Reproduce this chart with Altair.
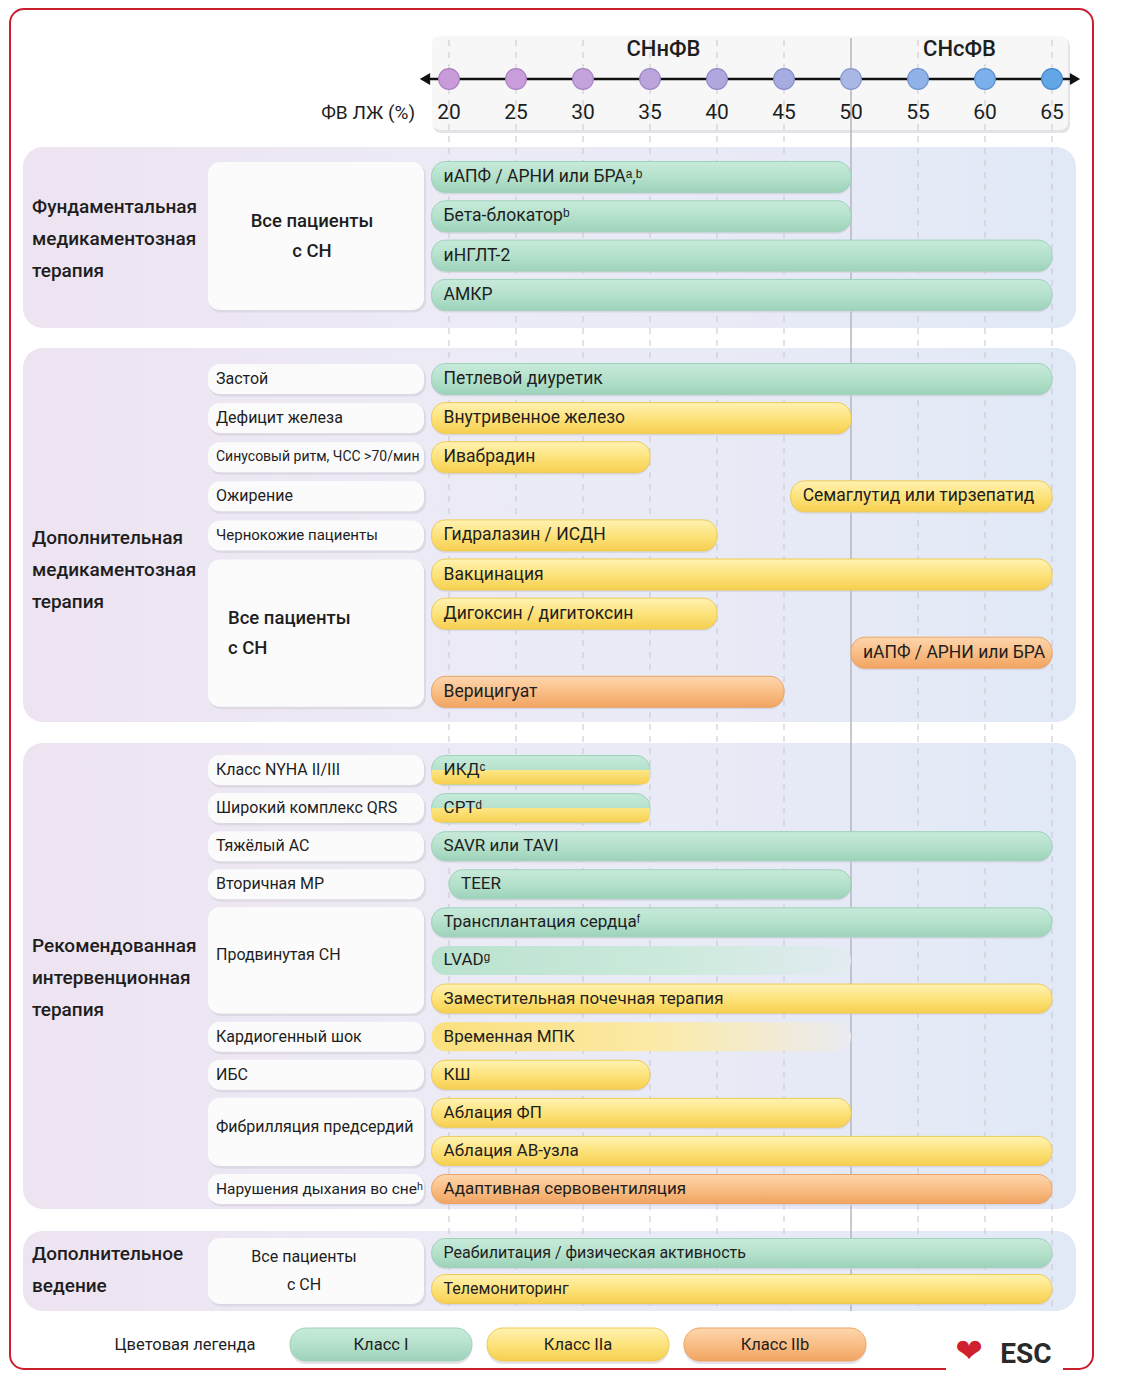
import altair as alt
import pandas as pd

FONT = "Roboto, Liberation Sans, sans-serif"

# ---------------- data ----------------
ef_ticks = [20, 25, 30, 35, 40, 45, 50, 55, 60, 65]
phenotypes = ["СНнФВ", "СНсФВ"]
phenotype_ef = [36.0, 58.1]

section_titles = [
    "Фундаментальная\nмедикаментозная\nтерапия",
    "Дополнительная\nмедикаментозная\nтерапия",
    "Рекомендованная\nинтервенционная\nтерапия",
    "Дополнительное\nведение",
]

# condition boxes: section, first row, last row, text, style
cond_section = [0, 1, 1, 1, 1, 1, 1, 2, 2, 2, 2, 2, 2, 2, 2, 2, 3]
cond_first = [0, 0, 1, 2, 3, 4, 5, 0, 1, 2, 3, 4, 7, 8, 9, 11, 0]
cond_last = [3, 0, 1, 2, 3, 4, 8, 0, 1, 2, 3, 6, 7, 8, 10, 11, 1]
cond_text = [
    "Все пациенты\nс СН",
    "Застой", "Дефицит железа", "Синусовый ритм, ЧСС >70/мин", "Ожирение",
    "Чернокожие пациенты",
    "Все пациенты\nс СН",
    "Класс NYHA II/III", "Широкий комплекс QRS", "Тяжёлый АС", "Вторичная МР",
    "Продвинутая СН",
    "Кардиогенный шок", "ИБС", "Фибрилляция предсердий",
    "Нарушения дыхания во снеʰ",
    "Все пациенты\nс СН",
]
cond_kind = ["bigc", "small", "small", "small", "small", "small", "bigl",
             "small", "small", "small", "small", "mid", "small", "small", "mid",
             "small", "bigc4"]

# therapy bars
bar_section = [0, 0, 0, 0,
               1, 1, 1, 1, 1, 1, 1, 1, 1,
               2, 2, 2, 2, 2, 2, 2, 2, 2, 2, 2, 2,
               3, 3]
bar_row = [0, 1, 2, 3,
           0, 1, 2, 3, 4, 5, 6, 7, 8,
           0, 1, 2, 3, 4, 5, 6, 7, 8, 9, 10, 11,
           0, 1]
bar_label = [
    "иАПФ / АРНИ или БРАᵃ,ᵇ", "Бета-блокаторᵇ", "иНГЛТ-2", "АМКР",
    "Петлевой диуретик", "Внутривенное железо", "Ивабрадин",
    "Семаглутид или тирзепатид", "Гидралазин / ИСДН", "Вакцинация",
    "Дигоксин / дигитоксин", "иАПФ / АРНИ или БРА", "Верицигуат",
    "ИКДᶜ", "СРТᵈ", "SAVR или TAVI", "TEER", "Трансплантация сердцаᶠ",
    "LVADᵍ", "Заместительная почечная терапия", "Временная МПК", "КШ",
    "Аблация ФП", "Аблация АВ-узла", "Адаптивная сервовентиляция",
    "Реабилитация / физическая активность", "Телемониторинг",
]
bar_start = [18.7, 18.7, 18.7, 18.7,
             18.7, 18.7, 18.7, 45.5, 18.7, 18.7, 18.7, 50, 18.7,
             18.7, 18.7, 18.7, 20, 18.7, 18.7, 18.7, 18.7, 18.7, 18.7, 18.7, 18.7,
             18.7, 18.7]
bar_end = [50, 50, 65, 65,
           65, 50, 35, 65, 40, 65, 40, 65, 45,
           35, 35, 65, 50, 65, 50, 65, 50, 35, 50, 65, 65,
           65, 65]
bar_class = ["I", "I", "I", "I",
             "I", "IIa", "IIa", "IIa", "IIa", "IIa", "IIa", "IIb", "IIb",
             "I/IIa", "I/IIa", "I", "I", "I", "I-fade", "IIa", "IIa-fade", "IIa",
             "IIa", "IIa", "IIb",
             "I", "IIa"]

legend_classes = ["Класс I", "Класс IIa", "Класс IIb"]

# ---------------- styles / layout ----------------
tick_fill = ["#c99bd9", "#c89dd9", "#c6a2dc", "#bca4dd", "#b0a7df",
             "#a6abe0", "#a9b7e5", "#91b2e8", "#7cb0ea", "#63a6e5"]
tick_stroke = ["#a97fc0", "#a880c0", "#a585c2", "#9b87c4", "#8f8ac6",
               "#868ec8", "#8797cc", "#6f93cf", "#5b91d2", "#4388cc"]

SEC = [
    dict(y0=177, pitch=39.3, top=147, bottom=328, bh=31, title_y=207, lfs=17.5),
    dict(y0=379, pitch=39.1, top=348, bottom=722, bh=31, title_y=538, lfs=17.5),
    dict(y0=770, pitch=38.09, top=743, bottom=1209, bh=29, title_y=946, lfs=17),
    dict(y0=1253, pitch=36.0, top=1231, bottom=1311, bh=29, title_y=1254, lfs=16),
]
COND_FS = {"Синусовый ритм, ЧСС >70/мин": 14, "Чернокожие пациенты": 15,
           "Нарушения дыхания во снеʰ": 15.5}


def ef(px):
    return 20 + (px - 449) / 13.4


def row_y(s, r):
    return SEC[s]["y0"] + r * SEC[s]["pitch"]


X = alt.Scale(domain=[ef(8), ef(1130)], nice=False, zero=False)
Y = alt.Scale(domain=[8, 1374], reverse=True, nice=False, zero=False)


def xq(f="x"):
    return alt.X(f"{f}:Q", scale=X, axis=None)


def yq(f="y"):
    return alt.Y(f"{f}:Q", scale=Y, axis=None)


def rects(df, **mark):
    return alt.Chart(df).mark_rect(**mark).encode(
        x=xq("x"), x2=alt.X2("x2:Q"), y=yq("y"), y2=alt.Y2("y2:Q"))


def texts(df, **mark):
    mark.setdefault("font", FONT)
    mark.setdefault("color", "#1e1e1e")
    enc = dict(x=xq("x"), y=yq("y"), text="t:N")
    if "fs" in df.columns:
        enc["size"] = alt.Size("fs:Q", scale=None, legend=None)
    return alt.Chart(df).mark_text(**mark).encode(**enc)


def grad(stops, horizontal=False):
    return alt.LinearGradient(
        gradient="linear",
        stops=[alt.GradientStop(color=c, offset=o) for o, c in stops],
        x1=0, y1=0, x2=1 if horizontal else 0, y2=0 if horizontal else 1)


G_I = grad([(0, "#c7eada"), (0.5, "#b5e1cc"), (1, "#9dd3ba")])
G_IIa = grad([(0, "#fff2b3"), (0.5, "#fde37c"), (1, "#f6cf50")])
G_IIb = grad([(0, "#fdd6ad"), (0.5, "#f9be86"), (1, "#f1a461")])
G_I_FADE = grad([(0, "#b9e2cf"), (0.6, "#cdeadc"), (1, "#e2ebf1")], True)
G_IIa_FADE = grad([(0, "#fbe07c"), (0.55, "#fbeaa9"), (1, "#ebebf2")], True)
STROKE = {"I": "#9ed2ba", "IIa": "#eecb55", "IIb": "#eba366"}

layers = []

# header panel
hdr = pd.DataFrame([dict(x=ef(432), x2=ef(1068), y=36, y2=130)])
hdr_sh = pd.DataFrame([dict(x=ef(433), x2=ef(1070), y=38, y2=133)])
layers.append(rects(hdr_sh, color="#e4e4e8", cornerRadius=8))
layers.append(rects(hdr, color="#f7f7f8", cornerRadius=8))

# section backgrounds
sec_df = pd.DataFrame([dict(x=ef(23), x2=ef(1076), y=s["top"], y2=s["bottom"]) for s in SEC])
layers.append(rects(sec_df, cornerRadius=20,
                    fill=grad([(0, "#eee3f1"), (0.4, "#ecebf5"), (0.78, "#e6eaf6"), (1, "#e1e9f6")], True)))

# vertical guide lines
grid = pd.DataFrame({"x": [t for t in ef_ticks if t != 50], "y": 40, "y2": 1311})
layers.append(alt.Chart(grid).mark_rule(color="#c6c6cf", strokeWidth=1, strokeDash=[6, 6]).encode(
    x=xq("x"), y=yq("y"), y2=alt.Y2("y2:Q")))
mid = pd.DataFrame({"x": [50], "y": [38], "y2": [1311]})
layers.append(alt.Chart(mid).mark_rule(color="#b4b4bc", strokeWidth=1.5).encode(
    x=xq("x"), y=yq("y"), y2=alt.Y2("y2:Q")))

# condition boxes
box_rows, box_sh = [], []
for s, a, b in zip(cond_section, cond_first, cond_last):
    y1 = row_y(s, a) - 15
    y2 = row_y(s, b) + 15
    box_rows.append(dict(x=ef(208), x2=ef(424), y=y1, y2=y2))
    box_sh.append(dict(x=ef(209), x2=ef(426), y=y1 + 1.5, y2=y2 + 2.5))
layers.append(rects(pd.DataFrame(box_sh), color="#d9d5e0", cornerRadius=12, opacity=0.8))
layers.append(rects(pd.DataFrame(box_rows), color="#fbfbfc", cornerRadius=12))

# bars
bars = pd.DataFrame({
    "x": bar_start, "x2": bar_end, "cls": bar_class, "t": bar_label,
    "s": bar_section, "r": bar_row,
})
bars["yc"] = [row_y(s, r) for s, r in zip(bars.s, bars.r)]
bars["h"] = [SEC[s]["bh"] for s in bars.s]
bars["y"] = bars.yc - bars.h / 2
bars["y2"] = bars.yc + bars.h / 2
bars["fs"] = [SEC[s]["lfs"] for s in bars.s]


def bar_layer(df, fill, stroke):
    kw = dict(fill=fill, cornerRadius=14, strokeWidth=1)
    if stroke:
        kw["stroke"] = stroke
    return rects(df, **kw)


sh = bars.copy()
sh["y"] = sh.y + 2
sh["y2"] = sh.y2 + 2
layers.append(rects(sh[~sh.cls.str.contains("fade")], color="#cfcbd8", cornerRadius=14, opacity=0.6))
layers.append(bar_layer(bars[bars.cls.isin(["I", "I/IIa"])], G_I, STROKE["I"]))
layers.append(bar_layer(bars[bars.cls == "IIa"], G_IIa, STROKE["IIa"]))
layers.append(bar_layer(bars[bars.cls == "IIb"], G_IIb, STROKE["IIb"]))
layers.append(bar_layer(bars[bars.cls == "I-fade"], G_I_FADE, None))
layers.append(bar_layer(bars[bars.cls == "IIa-fade"], G_IIa_FADE, None))
split = bars[bars.cls == "I/IIa"].copy()
split["y"] = split.yc
layers.append(rects(split, fill=grad([(0, "#fde785"), (1, "#f6cf50")]),
                    cornerRadiusBottomLeft=14, cornerRadiusBottomRight=14))

# bar labels
lab = bars.copy()
lab["y"] = lab.yc
layers.append(texts(lab, align="left", baseline="middle", dx=12))

# section titles (first line position; following lines go below)
tdf = pd.DataFrame({"t": section_titles, "x": ef(32), "y": [s["title_y"] for s in SEC]})
layers.append(texts(tdf, align="left", baseline="middle", fontSize=19, fontWeight=500,
                    lineBreak="\n", lineHeight=32))

# condition texts
crow = []
for s, a, b, t, k in zip(cond_section, cond_first, cond_last, cond_text, cond_kind):
    yc = (row_y(s, a) + row_y(s, b)) / 2
    crow.append(dict(s=s, t=t, k=k, yc=yc, fs=COND_FS.get(t, 16)))
cdf = pd.DataFrame(crow)
sm = cdf[cdf.k == "small"].assign(x=ef(216), y=lambda d: d.yc)
layers.append(texts(sm, align="left", baseline="middle"))
md = cdf[cdf.k == "mid"].drop(columns="fs").assign(x=ef(216), y=lambda d: d.yc - 5)
layers.append(texts(md, align="left", baseline="middle", fontSize=16))
bc = cdf[cdf.k == "bigc"].drop(columns="fs").assign(x=ef(312), y=lambda d: d.yc - 15)
layers.append(texts(bc, align="center", baseline="middle", fontSize=18.5, fontWeight=500,
                    lineBreak="\n", lineHeight=30))
bl = cdf[cdf.k == "bigl"].drop(columns="fs").assign(x=ef(228), y=lambda d: d.yc - 15)
layers.append(texts(bl, align="left", baseline="middle", fontSize=18.5, fontWeight=500,
                    lineBreak="\n", lineHeight=30))
b4 = cdf[cdf.k == "bigc4"].drop(columns="fs").assign(x=ef(304), y=lambda d: d.yc - 14)
layers.append(texts(b4, align="center", baseline="middle", fontSize=16,
                    lineBreak="\n", lineHeight=28))

# EF axis
axl = pd.DataFrame({"x": [ef(424)], "x2": [ef(1076)], "y": [79]})
layers.append(alt.Chart(axl).mark_rule(color="#111111", strokeWidth=2.5).encode(
    x=xq("x"), x2=alt.X2("x2:Q"), y=yq("y")))
arr = pd.DataFrame({"x": [ef(425), ef(1075)], "y": [79, 79],
                    "shape": ["triangle-left", "triangle-right"]})
layers.append(alt.Chart(arr).mark_point(filled=True, color="#111111", size=140, opacity=1).encode(
    x=xq("x"), y=yq("y"), shape=alt.Shape("shape:N", scale=None)))
tk = pd.DataFrame({"x": ef_ticks, "y": 79, "f": tick_fill, "st": tick_stroke,
                   "t": [str(v) for v in ef_ticks]})
layers.append(alt.Chart(tk).mark_circle(size=430, opacity=1, strokeWidth=1.2).encode(
    x=xq("x"), y=yq("y"), fill=alt.Fill("f:N", scale=None), stroke=alt.Stroke("st:N", scale=None)))
layers.append(texts(tk[["x", "t"]].assign(y=113), align="center", baseline="middle", fontSize=21))
layers.append(texts(pd.DataFrame({"t": ["ФВ ЛЖ (%)"], "x": [ef(415)], "y": [113]}),
                    align="right", baseline="middle", fontSize=19))
layers.append(texts(pd.DataFrame({"t": phenotypes, "x": phenotype_ef, "y": [49, 49]}),
                    align="center", baseline="middle", fontSize=22, fontWeight=500))

# legend
lg = pd.DataFrame({"t": legend_classes,
                   "x": [ef(290 + i * 197) for i in range(3)],
                   "x2": [ef(290 + i * 197 + 182) for i in range(3)],
                   "y": 1328, "y2": 1361})
lg["xc"] = (lg.x + lg.x2) / 2
for i, (g, st) in enumerate([(G_I, STROKE["I"]), (G_IIa, STROKE["IIa"]), (G_IIb, STROKE["IIb"])]):
    layers.append(rects(lg.iloc[[i]].assign(y=1330, y2=1364), color="#d4d0dc", cornerRadius=16, opacity=0.6))
    layers.append(rects(lg.iloc[[i]], fill=g, stroke=st, strokeWidth=1, cornerRadius=16))
layers.append(texts(lg[["t", "xc"]].rename(columns={"xc": "x"}).assign(y=1345),
                    align="center", baseline="middle", fontSize=16.5))
layers.append(texts(pd.DataFrame({"t": ["Цветовая легенда"], "x": [ef(185)], "y": [1345]}),
                    align="center", baseline="middle", fontSize=16.5))

# frame and logo
frame = pd.DataFrame([dict(x=ef(10), x2=ef(1093), y=9, y2=1369)])
layers.append(rects(frame, color="#ffffff", fillOpacity=0, stroke="#cc1f2d", strokeWidth=2,
                    cornerRadius=14))
mask = pd.DataFrame([dict(x=ef(946), x2=ef(1063), y=1345, y2=1374)])
layers.append(rects(mask, color="#ffffff"))
layers.append(texts(pd.DataFrame({"t": ["❤"], "x": [ef(969)], "y": [1352]}),
                    align="center", baseline="middle", fontSize=33, color="#d0202e",
                    font="DejaVu Sans"))
layers.append(texts(pd.DataFrame({"t": ["ESC"], "x": [ef(1026)], "y": [1355]}),
                    align="center", baseline="middle", fontSize=28, fontWeight="bold",
                    color="#2a2a2a"))

chart = alt.layer(*layers).properties(
    width=1122, height=1366, padding=0, autosize="none", background="white"
).configure_view(strokeWidth=0)

chart.save("out.html", embed_options={"renderer": "svg", "actions": False})
